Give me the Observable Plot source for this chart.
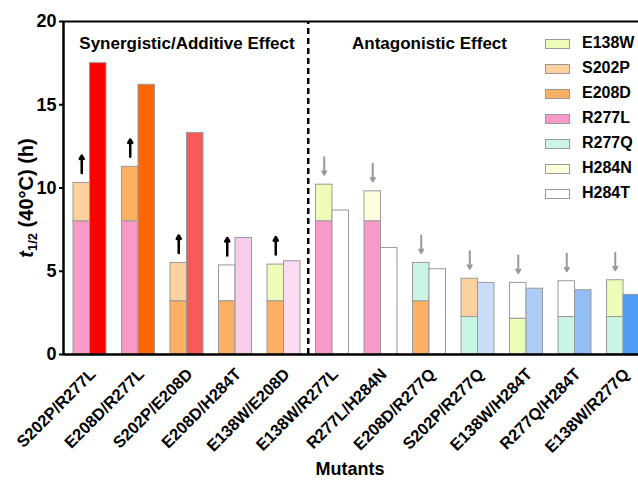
<!DOCTYPE html>
<html>
<head>
<meta charset="utf-8">
<script src="https://cdn.jsdelivr.net/npm/d3@7"></script>
<script src="https://cdn.jsdelivr.net/npm/@observablehq/plot@0.6"></script>
<style>
  body { margin: 0; background: #fff; }
  #wrap { position: relative; width: 638px; height: 480px; font-family: "Liberation Sans", Arial, sans-serif; }
  .leg { position: absolute; left: 545px; font-weight: bold; font-size: 16px; }
  .leg .sw { position: absolute; left: 0; width: 23px; height: 8px; border: 1px solid #999; }
  .leg .lb { position: absolute; left: 37px; white-space: nowrap; }
</style>
</head>
<body>
<div id="wrap"></div>
<script>
// ---- data ----
const mutants = ["S202P/R277L","E208D/R277L","S202P/E208D","E208D/H284T","E138W/E208D","E138W/R277L","R277L/H284N","E208D/R277Q","S202P/R277Q","E138W/H284T","R277Q/H284T","E138W/R277Q"];
const baseMutation = ["R277L","R277L","E208D","E208D","E208D","R277L","R277L","E208D","R277Q","E138W","R277Q","R277Q"];
const baseValue = [8.0, 8.0, 3.2, 3.2, 3.2, 8.0, 8.0, 3.2, 2.25, 2.15, 2.25, 2.25];
const addedMutation = ["S202P","E208D","S202P","H284T","E138W","E138W","H284N","R277Q","S202P","H284T","H284T","E138W"];
const stackTop = [10.3, 11.27, 5.5, 5.35, 5.4, 10.2, 9.8, 5.5, 4.55, 4.3, 4.4, 4.46];
const measured = [17.5, 16.2, 13.3, 7.0, 5.6, 8.65, 6.4, 5.12, 4.3, 3.95, 3.86, 3.58];
const effect = ["up","up","up","up","up","down","down","down","down","down","down","down"];
const legendMutations = ["E138W","S202P","E208D","R277L","R277Q","H284N","H284T"];
const sectionLabels = ["Synergistic/Additive Effect", "Antagonistic Effect"];
const yTicks = [0, 5, 10, 15, 20];

// ---- styles ----
const mutationColors = ["#eefcb9","#fdd09f","#fdb063","#f89ac8","#c8f5e4","#fefddc","#ffffff"];
const measuredColors = ["#ff0000","#ff6600","#f85a5a","#f8cdec","#fadcf2","#ffffff","#ffffff","#ffffff","#c9ddf8","#abcdf8","#92bdf5","#4e9cf4"];

const W = 0.34;
const idx = d3.range(mutants.length);
const colorOf = m => mutationColors[legendMutations.indexOf(m)];
const stackRows = idx.flatMap(i => [
  {i, mut: baseMutation[i], y1: 0, y2: baseValue[i]},
  {i, mut: addedMutation[i], y1: baseValue[i], y2: stackTop[i]}
]);
const xMin = -0.546, xMax = 11.309;

const svg = Plot.plot({
  width: 638,
  height: 480,
  marginLeft: 63,
  marginRight: 0,
  marginTop: 21,
  marginBottom: 126,
  style: {fontFamily: "'Liberation Sans', Arial, sans-serif", fontWeight: "bold", background: "#fff", overflow: "visible"},
  x: {domain: [xMin, xMax]},
  y: {domain: [0, 20]},
  color: {type: "identity"},
  marks: [
    Plot.rect(stackRows, {x1: d => d.i - W, x2: d => d.i, y1: "y1", y2: "y2", fill: d => colorOf(d.mut), stroke: "#9a9a9a", strokeWidth: 1}),
    Plot.rect(idx, {x1: i => i, x2: i => i + W, y1: 0, y2: i => measured[i], fill: i => measuredColors[i], stroke: "#9a9a9a", strokeWidth: 1}),
    Plot.arrow(idx, {
      x: i => i - W / 2,
      y1: i => effect[i] === "up" ? stackTop[i] + 0.6 : stackTop[i] + 1.65,
      y2: i => effect[i] === "up" ? stackTop[i] + 1.65 : stackTop[i] + 0.6,
      stroke: i => effect[i] === "up" ? "#000000" : "#999999",
      strokeWidth: i => effect[i] === "up" ? 2.5 : 2,
      headLength: 6
    }),
    Plot.ruleX([4.5], {y1: 0, y2: 20, stroke: "#000", strokeWidth: 2.5, strokeDasharray: "6,4"}),
    Plot.ruleY([20], {x1: xMin, x2: xMax, stroke: "#000", strokeWidth: 2}),
    Plot.ruleY([0], {x1: xMin, x2: xMax, stroke: "#000", strokeWidth: 2.5}),
    Plot.ruleX([xMin], {y1: 0, y2: 20, stroke: "#000", strokeWidth: 2.5}),
    Plot.text([sectionLabels[0]], {x: 2, y: 18.68, text: d => d, fontSize: 17, fontWeight: "bold", fill: "#000"}),
    Plot.text([sectionLabels[1]], {x: 7.0, y: 18.68, text: d => d, fontSize: 17, fontWeight: "bold", fill: "#000"}),
    Plot.axisY({ticks: yTicks, tickSize: 4, tickPadding: 3, fontSize: 18, fontWeight: "bold", label: null, strokeWidth: 2}),
    Plot.axisX({ticks: idx, tickFormat: i => mutants[i], tickRotate: -45, tickSize: 0, tickPadding: 17, dx: 3, fontSize: 16.5, fontWeight: "bold", label: null})
  ]
});

const s = d3.select(svg);
const yt = s.append("text")
  .attr("transform", "translate(33,198) rotate(-90)")
  .attr("text-anchor", "middle")
  .attr("font-size", 20)
  .attr("font-weight", "bold")
  .attr("fill", "#000");
yt.append("tspan").attr("font-style", "italic").text("t");
yt.append("tspan").attr("font-size", 13).attr("dy", 4).text("1/2");
yt.append("tspan").attr("dy", -4).text(" (40°C) (h)");

s.append("text")
  .attr("x", 350).attr("y", 475)
  .attr("text-anchor", "middle")
  .attr("font-size", 18)
  .attr("font-weight", "bold")
  .attr("fill", "#000")
  .text("Mutants");

const wrap = document.getElementById("wrap");
wrap.appendChild(svg);

legendMutations.forEach((m, k) => {
  const row = document.createElement("div");
  row.className = "leg";
  row.style.top = (44 + 25 * k) + "px";
  const sw = document.createElement("div");
  sw.className = "sw";
  sw.style.background = mutationColors[k];
  sw.style.top = "-5px";
  const lb = document.createElement("div");
  lb.className = "lb";
  lb.style.top = "-10px";
  lb.textContent = m;
  row.appendChild(sw);
  row.appendChild(lb);
  wrap.appendChild(row);
});
</script>
</body>
</html>
